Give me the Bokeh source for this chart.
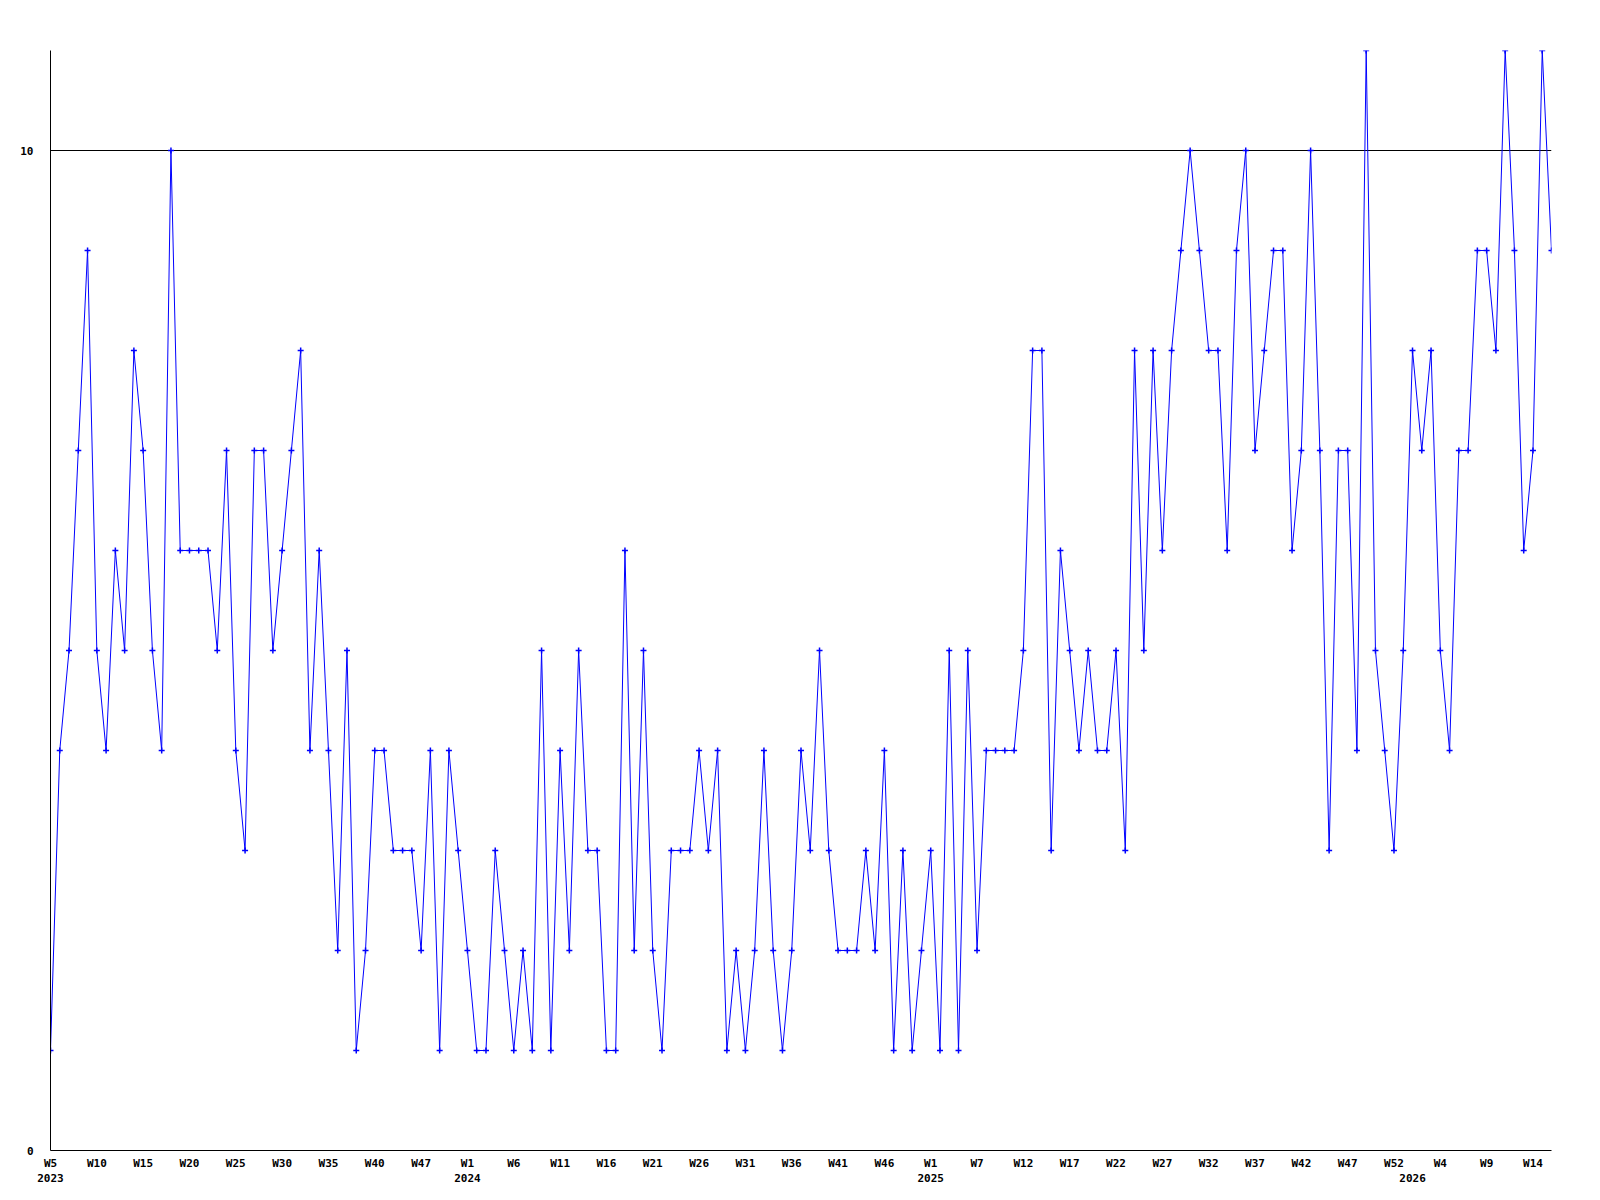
from bokeh.plotting import figure
from bokeh.models import FixedTicker, Range1d, ColumnDataSource
from bokeh.embed import file_html
from bokeh.resources import INLINE

# weekly values, W5 2023 .. W15 2026
values = [
    1, 4, 5, 7, 9, 5, 4, 6, 5, 8,
    7, 5, 4, 10, 6, 6, 6, 6, 5, 7,
    4, 3, 7, 7, 5, 6, 7, 8, 4, 6,
    4, 2, 5, 1, 2, 4, 4, 3, 3, 3,
    2, 4, 1, 4, 3, 2, 1, 1, 3, 2,
    1, 2, 1, 5, 1, 4, 2, 5, 3, 3,
    1, 1, 6, 2, 5, 2, 1, 3, 3, 3,
    4, 3, 4, 1, 2, 1, 2, 4, 2, 1,
    2, 4, 3, 5, 3, 2, 2, 2, 3, 2,
    4, 1, 3, 1, 2, 3, 1, 5, 1, 5,
    2, 4, 4, 4, 4, 5, 8, 8, 3, 6,
    5, 4, 5, 4, 4, 5, 3, 8, 5, 8,
    6, 8, 9, 10, 9, 8, 8, 6, 9, 10,
    7, 8, 9, 9, 6, 7, 10, 7, 3, 7,
    7, 4, 11, 5, 4, 3, 5, 8, 7, 8,
    5, 4, 7, 7, 9, 9, 8, 11, 9, 6,
    7, 11, 9,
]

# labelled x ticks (point index -> label)
tick_index = [0, 5, 10, 15, 20, 25, 30, 35, 40, 45, 50, 55, 60, 65, 70, 75, 80,
              85, 90, 95, 100, 105, 110, 115, 120, 125, 130, 135, 140, 145, 147,
              150, 155, 160]
tick_labels = ["W5\n2023", "W10", "W15", "W20", "W25", "W30", "W35", "W40", "W47",
               "W1\n2024", "W6", "W11", "W16", "W21", "W26", "W31", "W36", "W41",
               "W46", "W1\n2025", "W7", "W12", "W17", "W22", "W27", "W32", "W37",
               "W42", "W47", "W52", "\n2026", "W4", "W9", "W14"]

y_ticks = [0, 10]
y_max = 11

x = list(range(len(values)))
src = ColumnDataSource(dict(x=x, y=values))

p = figure(
    frame_width=1501, frame_height=1100,
    x_range=Range1d(0, len(values) - 1), y_range=Range1d(0, y_max),
    output_backend="svg", toolbar_location=None,
    min_border_left=50, min_border_top=50, min_border_right=40, min_border_bottom=42,
)
p.outline_line_color = None
p.background_fill_color = "white"
p.border_fill_color = "white"

p.line("x", "y", source=src, line_color="#0000ff", line_width=1)
p.scatter("x", "y", source=src, marker="cross", size=6,
          line_color="#0000ff", line_width=1.5)

font = "DejaVu Sans Mono"

p.xaxis.ticker = FixedTicker(ticks=tick_index)
p.xaxis.major_label_overrides = {i: l for i, l in zip(tick_index, tick_labels)}
p.yaxis.ticker = FixedTicker(ticks=y_ticks)

for ax in (p.xaxis, p.yaxis):
    ax.axis_line_color = "black"
    ax.axis_line_width = 1
    ax.major_tick_line_color = None
    ax.minor_tick_line_color = None
    ax.major_tick_out = 0
    ax.major_tick_in = 0
    ax.major_label_text_font = font
    ax.major_label_text_font_style = "bold"
    ax.major_label_text_font_size = "11px"
    ax.major_label_text_color = "black"

p.xaxis.major_label_standoff = 6
p.yaxis.major_label_standoff = 17

p.xgrid.grid_line_color = None
p.ygrid.ticker = FixedTicker(ticks=y_ticks)
p.ygrid.grid_line_color = "black"
p.ygrid.grid_line_alpha = 1
p.ygrid.grid_line_width = 1

open("out.html", "w").write(file_html(p, INLINE))
